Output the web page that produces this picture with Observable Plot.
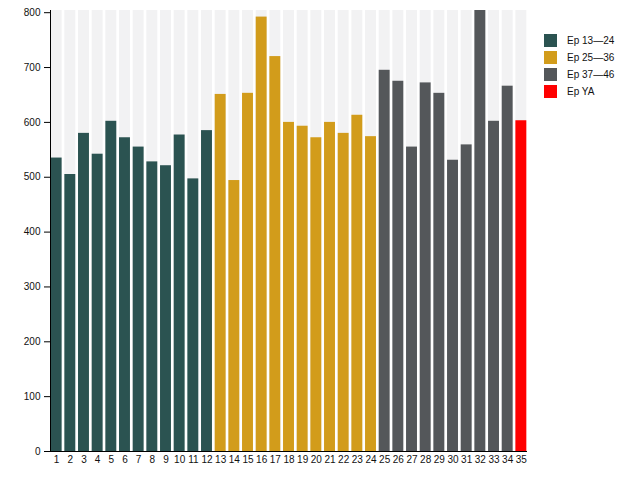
<!DOCTYPE html>
<html>
<head>
<meta charset="utf-8">
<script src="https://cdn.jsdelivr.net/npm/d3@7"></script>
<script src="https://cdn.jsdelivr.net/npm/@observablehq/plot@0.6"></script>
<style>
  body { margin: 0; background: #fff; font-family: "Liberation Sans", Arial, sans-serif; }
  #wrap { position: relative; width: 626px; height: 500px; }
  #legend { position: absolute; left: 544px; top: 32px; font-size: 10px; color: #111; }
  #legend .row { display: flex; align-items: center; height: 17px; }
  #legend .sw { width: 13px; height: 13px; margin-right: 10px; }
</style>
</head>
<body>
<div id="wrap"><div id="legend"></div></div>
<script>
const episodes = d3.range(1, 36);
const values = [535, 505, 580, 542, 602, 572, 555, 528, 521, 577, 497, 585,
                651, 494, 653, 792, 720, 600, 593, 572, 600, 580, 613, 574,
                695, 675, 555, 672, 653, 531, 559, 804, 602, 666, 603];
const groups = [
  ...Array(12).fill("Ep 13—24"),
  ...Array(12).fill("Ep 25—36"),
  ...Array(10).fill("Ep 37—46"),
  "Ep YA"
];
const groupNames = ["Ep 13—24", "Ep 25—36", "Ep 37—46", "Ep YA"];
const groupColors = ["#2b5351", "#d29c1b", "#54575a", "#ff0000"];
const yTicks = [0, 100, 200, 300, 400, 500, 600, 700, 800];

const data = episodes.map((e, i) => ({ep: e, value: values[i], group: groups[i]}));
const maxV = d3.max(values);

const chart = Plot.plot({
  width: 626,
  height: 500,
  marginLeft: 50,
  marginRight: 99,
  marginTop: 10,
  marginBottom: 49,
  style: {fontFamily: "Liberation Sans, Arial, sans-serif", fontSize: "10px", color: "#111", background: "transparent"},
  x: {domain: episodes, paddingInner: 0.2, paddingOuter: 0.05, round: false, label: null},
  y: {domain: [0, maxV], label: null},
  color: {domain: groupNames, range: groupColors},
  marks: [
    Plot.barY(data, {x: "ep", y: () => maxV, fill: "#f2f2f3"}),
    Plot.barY(data, {x: "ep", y: "value", fill: "group"}),
    Plot.axisY({ticks: yTicks, tickSize: 6, tickPadding: 4, stroke: "#000", fontSize: 10, label: null}),
    Plot.axisX({tickSize: 0, tickPadding: 4, fontSize: 10, label: null}),
    Plot.ruleY([0], {stroke: "#000"})
  ]
});
document.getElementById("wrap").prepend(chart);

// y-axis domain line, placed from the chart's own y scale
const ys = chart.scale("y");
d3.select(chart).append("line")
  .attr("x1", 50.5).attr("x2", 50.5)
  .attr("y1", ys.apply(0)).attr("y2", ys.apply(maxV))
  .attr("stroke", "#000");

const legend = document.getElementById("legend");
groupNames.forEach((g, i) => {
  const row = document.createElement("div");
  row.className = "row";
  row.innerHTML = `<div class="sw" style="background:${groupColors[i]}"></div><span>${g}</span>`;
  legend.appendChild(row);
});
</script>
</body>
</html>
